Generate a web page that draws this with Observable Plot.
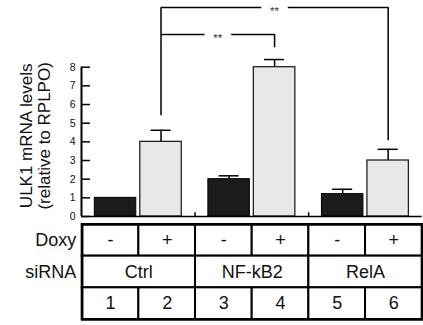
<!DOCTYPE html>
<html><head><meta charset="utf-8">
<script src="https://cdn.jsdelivr.net/npm/d3@7"></script>
<script src="https://cdn.jsdelivr.net/npm/@observablehq/plot@0.6"></script>
<style>body{margin:0;background:#fff} #c svg{display:block}</style>
</head><body><div id="c"></div>
<script>
const groups = ["Ctrl", "NF-kB2", "RelA"];
const minusValues = [1.0, 2.0, 1.2];
const minusErrors = [0, 0.18, 0.26];
const plusValues = [4.0, 8.0, 3.0];
const plusErrors = [0.62, 0.41, 0.6];
const yTicks = [0, 1, 2, 3, 4, 5, 6, 7, 8];
const yTitle = "ULK1 mRNA levels\n(relative to RPLPO)";
const doxyLabels = ["-", "+", "-", "+", "-", "+"];
const laneLabels = ["1", "2", "3", "4", "5", "6"];
const rowLabels = ["Doxy", "siRNA"];
const comparisons = [
  {from: "Ctrl", to: "NF-kB2", level: 9.75, fromEnd: 5.42, toEnd: 9.07, label: "**"},
  {from: "Ctrl", to: "RelA", level: 11.2, fromEnd: 9.75, toEnd: 4.09, label: "**"}
];

const FONT = "'Liberation Sans', Arial, Helvetica, sans-serif";
const minus = groups.map((g, i) => ({group: g, lane: 2 * i, value: minusValues[i], err: minusErrors[i]}));
const plus = groups.map((g, i) => ({group: g, lane: 2 * i + 1, value: plusValues[i], err: plusErrors[i]}));
const lanePos = g => groups.indexOf(g) * 2 + 1.5;
const bracketPts = comparisons.flatMap((c, k) => {
  const a = lanePos(c.from), b = lanePos(c.to);
  return [
    {id: k, x: a, y: c.fromEnd}, {id: k, x: a, y: c.level},
    {id: k, x: b, y: c.level}, {id: k, x: b, y: c.toEnd}
  ];
});
const dividers = groups.slice(1).map((g, i) => 2 * (i + 1));

const errMarks = (data, dx) => {
  const d = data.filter(e => e.err > 0);
  return [
    Plot.ruleX(d, {x: e => e.lane + 0.5, y1: "value", y2: e => e.value + e.err, dx, strokeWidth: 1.5}),
    Plot.ruleY(d, {x1: e => e.lane + 0.5, x2: e => e.lane + 0.5, y: e => e.value + e.err, dx, insetLeft: -10, insetRight: -10, strokeWidth: 1.5})
  ];
};

const chart = Plot.plot({
  width: 423, height: 222,
  marginTop: 66.7, marginBottom: 6, marginLeft: 81, marginRight: 1.3,
  style: {fontFamily: FONT, background: "white"},
  x: {domain: [0, 6], axis: null},
  y: {domain: [0, 8]},
  marks: [
    Plot.rectY(minus, {x1: "lane", x2: d => d.lane + 1, y: "value", fill: "#1b1b1b", stroke: "#000", strokeWidth: 1, insetLeft: 13.3, insetRight: 2}),
    Plot.rectY(plus, {x1: "lane", x2: d => d.lane + 1, y: "value", fill: "#e8e8e8", stroke: "#222", strokeWidth: 1.3, insetLeft: 2, insetRight: 13.3}),
    ...errMarks(minus, 5.65),
    ...errMarks(plus, -5.65),
    Plot.ruleY([0], {strokeWidth: 1.5}),
    Plot.ruleX(dividers, {y1: 0, y2: 0.2, strokeWidth: 1.5}),
    Plot.ruleX([0], {y1: 0, y2: 8, strokeWidth: 2}),
    Plot.axisY(yTicks, {tickSize: -9, tickPadding: 15, fontSize: 10.5, label: null, strokeWidth: 1.5, fill: "#111"}),
    Plot.line(bracketPts, {x: "x", y: "y", z: "id", dx: -5.65, strokeWidth: 1.5, strokeLinejoin: "miter", strokeLinecap: "butt"}),
    Plot.text(comparisons, {x: c => (lanePos(c.from) + lanePos(c.to)) / 2, y: "level", text: "label", dx: -5.65, dy: 3.5, fontSize: 11.5, fill: "#333", stroke: "white", strokeWidth: 18}),
    Plot.text([yTitle], {text: d => d, frameAnchor: "left", textAnchor: "middle", lineAnchor: "middle", dx: -46.5, dy: -6, rotate: -90, fontSize: 17, lineHeight: 1.06, fill: "#111"})
  ]
});

const cells = [
  ...doxyLabels.map((t, i) => ({x1: i, x2: i + 1, row: 0, text: t})),
  ...groups.map((g, i) => ({x1: 2 * i, x2: 2 * i + 2, row: 1, text: g})),
  ...laneLabels.map((t, i) => ({x1: i, x2: i + 1, row: 2, text: t}))
];

const table = Plot.plot({
  width: 423, height: 103,
  marginTop: 2, marginBottom: 6, marginLeft: 81.7, marginRight: 1.3,
  style: {fontFamily: FONT, background: "white"},
  x: {domain: [0, 6], axis: null},
  y: {domain: [0, 3], reverse: true, axis: null},
  marks: [
    Plot.rect(cells, {x1: "x1", x2: "x2", y1: "row", y2: d => d.row + 1, fill: "white", stroke: "#000", strokeWidth: 2}),
    Plot.frame({stroke: "#000", strokeWidth: 2.5}),
    Plot.text(cells, {x: d => (d.x1 + d.x2) / 2, y: d => d.row + 0.5, text: "text", fontSize: 18, fill: "#111"}),
    Plot.text(rowLabels, {x: 0, y: (d, i) => i + 0.5, text: d => d, dx: -6, textAnchor: "end", fontSize: 18, fill: "#111"})
  ]
});

const c = document.getElementById("c");
c.append(chart, table);
</script>
</body></html>
